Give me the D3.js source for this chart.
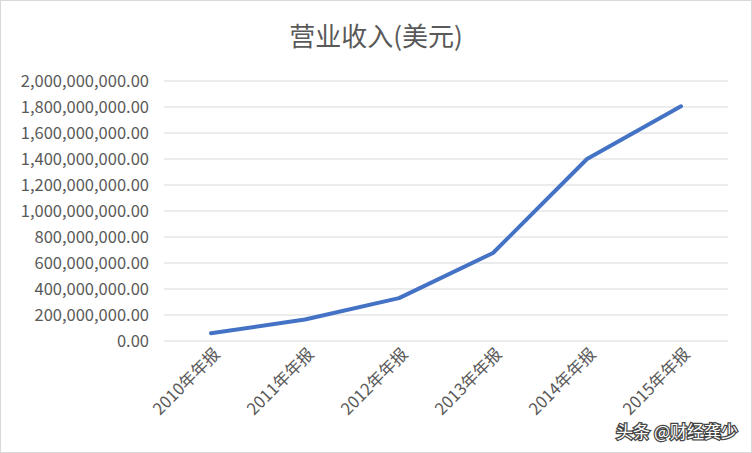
<!DOCTYPE html>
<html><head><meta charset="utf-8">
<script src="https://cdn.jsdelivr.net/npm/d3@7"></script>
<style>body{margin:0;background:#fff}svg{display:block}</style>
</head><body><svg id="c" width="752" height="453"></svg>
<script>
const categories=["2010年年报","2011年年报","2012年年报","2013年年报","2014年年报","2015年年报"];
const revenue=[60000000,165000000,330000000,677000000,1400000000,1805000000];
const yTicks=[0,200000000,400000000,600000000,800000000,1000000000,1200000000,1400000000,1600000000,1800000000,2000000000];
const title="营业收入(美元)";
const watermark="头条 @财经龚少";

const svg=d3.select("#c");
const font="'Microsoft YaHei','Noto Sans CJK SC',sans-serif";
svg.append("rect").attr("x",0.5).attr("y",0.5).attr("width",751).attr("height",452).attr("fill","#fff").attr("stroke","#d9d9d9");
const x=d3.scaleBand().domain(categories).range([164,728]);
const y=d3.scaleLinear().domain([0,2000000000]).range([341,81]);
const g=svg.append("g");
g.selectAll("line.grid").data(yTicks).join("line").attr("x1",164).attr("x2",728)
 .attr("y1",d=>y(d)).attr("y2",d=>y(d)).attr("stroke","#d9d9d9").attr("stroke-width",1);
g.selectAll("text.yl").data(yTicks).join("text").attr("x",149).attr("y",d=>y(d)).attr("dy","0.35em")
 .attr("text-anchor","end").attr("font-family",font).attr("font-size",16.5).attr("fill","#595959")
 .text(d=>d3.format(",.2f")(d));
g.selectAll("text.xl").data(categories).join("text")
 .attr("transform",d=>`translate(${x(d)+x.bandwidth()/2+10},${355}) rotate(-45)`)
 .attr("text-anchor","end").attr("font-family",font).attr("font-size",16.5).attr("fill","#595959").text(d=>d);
const line=d3.line().x((d,i)=>x(categories[i])+x.bandwidth()/2).y(d=>y(d));
g.append("path").attr("d",line(revenue)).attr("fill","none").attr("stroke","#4472C4").attr("stroke-width",4).attr("stroke-linecap","round").attr("stroke-linejoin","round");
svg.append("text").attr("x",376).attr("y",46).attr("text-anchor","middle").attr("font-family",font).attr("font-size",26).attr("fill","#595959").text(title);
svg.append("text").attr("x",738).attr("y",438).attr("text-anchor","end").attr("font-family",font).attr("font-size",17)
 .attr("fill","#fff").attr("stroke","#444").attr("stroke-width",2.5).attr("paint-order","stroke").text(watermark);
</script></body></html>
